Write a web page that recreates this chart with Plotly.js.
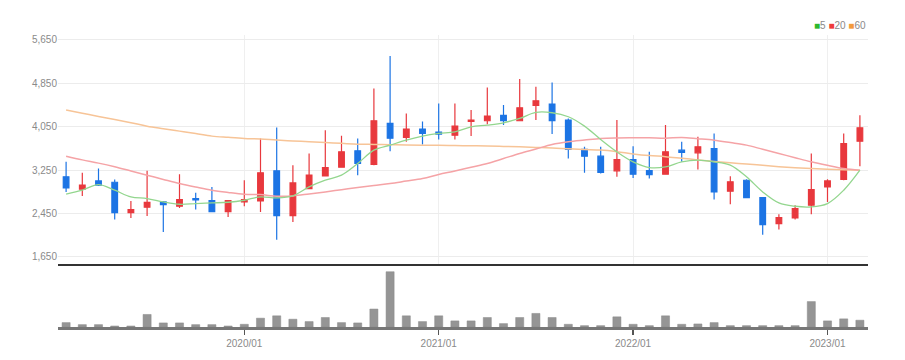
<!DOCTYPE html>
<html>
<head>
<meta charset="utf-8">
<script src="https://cdn.plot.ly/plotly-3.0.1.min.js"></script>
<style>html,body{margin:0;padding:0;background:#fff;}#chart{width:905px;height:360px;}</style>
</head>
<body>
<div id="chart"></div>
<script>
var months = ['2019/02','2019/03','2019/04','2019/05','2019/06','2019/07','2019/08','2019/09','2019/10','2019/11','2019/12',
  '2020/01','2020/02','2020/03','2020/04','2020/05','2020/06','2020/07','2020/08','2020/09','2020/10','2020/11','2020/12',
  '2021/01','2021/02','2021/03','2021/04','2021/05','2021/06','2021/07','2021/08','2021/09','2021/10','2021/11','2021/12',
  '2022/01','2022/02','2022/03','2022/04','2022/05','2022/06','2022/07','2022/08','2022/09','2022/10','2022/11','2022/12',
  '2023/01','2023/02','2023/03'];

var openP  = [3127,2899,3053,3028,2468,2567,2665,2585,2727,2690,2487,2665,2684,3238,2413,2912,3145,3305,3607,3355,4112,3853,4007,3952,3896,
              4148,4161,4259,4161,4444,4468,4173,3632,3508,3238,3447,3244,3176,3619,3570,3650,2862,3065,2745,2265,2370,2604,2942,3078,3785];
var highP  = [3404,3201,3281,3078,2684,3238,2680,3176,2832,2942,2695,3065,3835,4038,3342,3558,3988,3884,3835,4758,5355,4296,4148,4481,4481,
              4358,4776,4450,4930,4788,4868,4204,3681,3681,4173,3693,3588,4081,3773,3865,3927,3139,3084,2758,2438,2604,3558,3084,3927,4265];
var lowP   = [2850,2776,2960,2339,2370,2407,2112,2555,2524,2475,2388,2585,2481,1970,2296,2900,3140,3300,3158,3340,3601,3773,3724,3816,3816,
              3878,4099,4081,4150,4173,3915,3465,3201,3188,3127,3108,3096,3170,3404,3262,2708,2622,2740,2062,2155,2339,2438,2665,3065,3324];
var closeP = [2924,2973,2973,2468,2524,2659,2616,2708,2702,2487,2690,2708,3201,2413,3016,3158,3299,3588,3373,4161,3841,4007,3927,3915,4062,
              4173,4247,4161,4401,4530,4161,3632,3508,3207,3447,3176,3170,3588,3576,3681,2850,3035,2745,2247,2376,2542,2893,3053,3742,4031];

var ma5  = [2807,2881,2985,2881,2758,2727,2665,2622,2635,2647,2659,2696,2758,2739,2776,2942,3065,3158,3373,3619,3712,3804,3878,3927,3958,
            4050,4081,4124,4204,4315,4309,4235,4062,3816,3588,3404,3299,3312,3404,3435,3404,3342,3127,2850,2647,2585,2573,2635,2881,3250];
var ma20 = [3508,3440,3380,3312,3235,3158,3080,3004,2940,2881,2840,2807,2800,2770,2776,2812,2850,2890,2930,2968,3004,3050,3096,3170,3235,
            3305,3373,3465,3558,3640,3724,3773,3805,3835,3845,3847,3847,3840,3853,3830,3804,3760,3712,3635,3558,3480,3404,3340,3281,3250];
var ma60 = [4358,4300,4240,4185,4125,4062,4015,3970,3925,3878,3855,3835,3825,3805,3790,3775,3760,3745,3730,3725,3720,3715,3712,3710,3705,
            3700,3695,3688,3680,3670,3660,3645,3632,3620,3590,3550,3520,3500,3470,3440,3410,3385,3365,3340,3315,3295,3280,3268,3258,3250];

var volume = [13,7,7,3,3,37,12,12,7,7,3,8,26,33,23,16,28,13,12,53,163,33,16,33,18,
              18,28,10,28,40,28,8,4,4,30,8,4,33,8,9,13,4,4,4,4,4,75,18,24,20];

var yearTicks = ['2020/01','2021/01','2022/01','2023/01'];
var priceTicks = [1650,2450,3250,4050,4850,5650];

var font = 'Liberation Sans Narrow, Arial Narrow, Liberation Sans, sans-serif';

var traces = [
  {type:'scatter', mode:'lines', x:months, y:ma60, line:{color:'#f7c497', width:1.5, shape:'spline', smoothing:1}, hoverinfo:'skip', xaxis:'x', yaxis:'y'},
  {type:'scatter', mode:'lines', x:months, y:ma20, line:{color:'#f5a3a6', width:1.5, shape:'spline', smoothing:1}, hoverinfo:'skip', xaxis:'x', yaxis:'y'},
  {type:'scatter', mode:'lines', x:months, y:ma5, line:{color:'#93d68e', width:1.3, shape:'spline', smoothing:1}, hoverinfo:'skip', xaxis:'x', yaxis:'y'},
  {type:'candlestick', x:months, open:openP, high:highP, low:lowP, close:closeP, xaxis:'x', yaxis:'y',
   increasing:{line:{color:'#e8383d', width:1.2}, fillcolor:'#e8383d'},
   decreasing:{line:{color:'#1c74e4', width:1.2}, fillcolor:'#1c74e4'},
   whiskerwidth:0},
  {type:'bar', x:months, y:volume, xaxis:'x2', yaxis:'y2', marker:{color:'#959595', line:{color:'#8a8a8a', width:0.5}}}
];

var layout = {
  width:905, height:360,
  margin:{l:58, r:37, t:35, b:33},
  paper_bgcolor:'#ffffff', plot_bgcolor:'#ffffff',
  showlegend:false,
  boxgap:0.5, bargap:0.5,
  font:{family:font, size:10, color:'#8a8a8a'},
  xaxis:{type:'category', categoryorder:'array', categoryarray:months, range:[-0.5,49.5],
         domain:[0,1], anchor:'y', rangeslider:{visible:false},
         tickvals:yearTicks, showticklabels:false, ticks:'',
         showgrid:true, gridcolor:'#efefef', gridwidth:1,
         showline:true, linecolor:'#333333', linewidth:2, zeroline:false, fixedrange:true},
  yaxis:{domain:[0.2158,1], anchor:'x', range:[1521,5742],
         tickvals:priceTicks, ticktext:['1,650','2,450','3,250','4,050','4,850','5,650'],
         showgrid:true, gridcolor:'#ececec', gridwidth:1, zeroline:false, showline:false,
         ticks:'', tickfont:{family:font, size:10, color:'#8a8a8a'}},
  xaxis2:{type:'category', categoryorder:'array', categoryarray:months, range:[-0.5,49.5],
          domain:[0,1], anchor:'y2', tickvals:yearTicks, ticktext:yearTicks,
          showgrid:false, showline:true, linecolor:'#777777', linewidth:2.5,
          ticks:'outside', ticklen:5, tickwidth:1.5, tickcolor:'#555555',
          tickfont:{family:font, size:10, color:'#8a8a8a'}, zeroline:false},
  yaxis2:{domain:[0,0.202], anchor:'x2', range:[0,174], showgrid:false, showticklabels:false,
          zeroline:false, showline:false, ticks:''},
  annotations:[
    {xref:'paper', yref:'paper', x:1, y:1.034, xanchor:'right', yanchor:'middle', showarrow:false,
     text:'<span style="color:#2db82d">■</span>5 <span style="color:#ef3b3b">■</span>20 <span style="color:#f39a3c">■</span>60',
     font:{family:font, size:10, color:'#8a8a8a'}}
  ]
};

Plotly.newPlot('chart', traces, layout, {displayModeBar:false, staticPlot:true});
</script>
</body>
</html>
